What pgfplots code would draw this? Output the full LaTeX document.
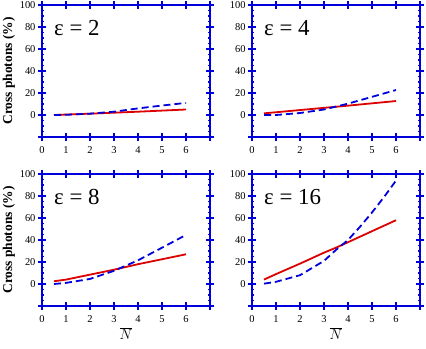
\documentclass[border=0pt]{standalone}
\usepackage{pgfplots}
\pgfplotsset{compat=1.18}
\usepackage{fontspec}
\setmainfont{Liberation Serif}
\definecolor{axblue}{RGB}{0,0,220}
\definecolor{lnred}{RGB}{220,0,0}
\definecolor{lnblue}{RGB}{0,0,220}

\pgfplotsset{
  panel/.style={
    scale only axis, width=168bp, height=132bp,
    xmin=0, xmax=7, ymin=-20, ymax=100,
    xtick={0,1,...,7}, xticklabels={0,1,2,3,4,5,6,},
    ytick={-20,0,20,...,100}, yticklabels={,0,20,40,60,80,100},
    minor y tick num=3,
    axis line style={axblue, line width=1.8pt},
    every tick/.style={axblue, line width=1.5pt},
    major tick length=8bp, minor tick length=3bp,
    tick align=center,
    every minor tick/.style={axblue, line width=1.2pt},
    tick label style={font=\fontsize{10.5}{11}\selectfont},
    /pgf/number format/assume math mode=true,
    xticklabel style={yshift=-2bp},
    yticklabel style={xshift=1bp},
    clip=false,
  },
  leftpanel/.style={ylabel={\bfseries Cross photons (\%)},
    ylabel style={font=\fontsize{13.5}{14}\selectfont, yshift=-2bp}},
  bottompanel/.style={xlabel={$\overline{N}$},
    xlabel style={font=\fontsize{15}{16}\selectfont, yshift=2bp}},
  redline/.style={lnred, line width=1.8pt},
  blueline/.style={lnblue, line width=1.8pt, dash pattern=on 7bp off 4bp},
}
\tikzset{elabel/.style={font=\fontsize{23}{24}\selectfont, anchor=north west, inner sep=0pt}}

\begin{document}
\begin{tikzpicture}
\useasboundingbox (0,0) rectangle (426bp,349bp);

% top left
\begin{axis}[panel, leftpanel, at={(42bp,212bp)}]
\addplot[redline] coordinates {(0.5,0) (1,0.4) (2,1.2) (3,2.1) (4,3.0) (5,4.0) (6,5.0)};
\addplot[blueline] coordinates {(0.5,0) (1,0.2) (2,1.2) (3,3) (4,6) (5,8.6) (6,11)};
\node[elabel] at (axis cs:0.5,86) {ε = 2};
\end{axis}

% top right
\begin{axis}[panel, at={(252bp,212bp)}]
\addplot[redline] coordinates {(0.5,1.5) (1,2.5) (2,4.5) (3,6.5) (4,8.5) (5,10.6) (6,12.7)};
\addplot[blueline] coordinates {(0.5,0) (1,0) (2,1.8) (3,5) (4,10.3) (5,16.5) (6,22.7)};
\node[elabel] at (axis cs:0.5,86) {ε = 4};
\end{axis}

% bottom left
\begin{axis}[panel, leftpanel, bottompanel, at={(42bp,43bp)}]
\addplot[redline] coordinates {(0.5,2.5) (1,4) (2,8.5) (3,13) (4,18) (5,22.5) (6,27)};
\addplot[blueline] coordinates {(0.5,0) (1,1) (2,4.6) (3,12) (4,21.5) (5,33) (6,44.6)};
\node[elabel] at (axis cs:0.5,86) {ε = 8};
\end{axis}

% bottom right
\begin{axis}[panel, bottompanel, at={(252bp,43bp)}]
\addplot[redline] coordinates {(0.5,4) (1,9) (2,18.5) (3,28.5) (3.5,33) (4,38) (5,48) (6,58)};
\addplot[blueline] coordinates {(0.5,0.3) (1,2) (2,8) (3,21) (3.5,31) (4,40) (4.5,52) (5,65) (5.5,79) (6,94)};
\node[elabel] at (axis cs:0.5,86) {ε = 16};
\end{axis}
\end{tikzpicture}
\end{document}
